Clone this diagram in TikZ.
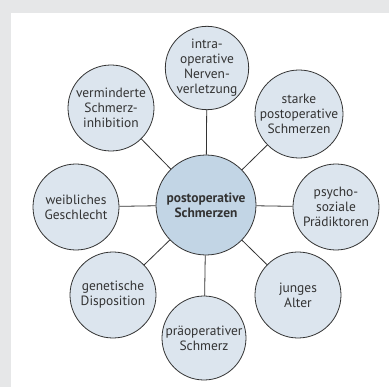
\documentclass[tikz,border=0pt]{standalone}
\usepackage{fontspec}
\setmainfont{PT Sans}
\definecolor{bggray}{HTML}{E6E7E8}
\definecolor{outerfill}{HTML}{DCE5EE}
\definecolor{centerfill}{HTML}{C2D5E5}
\definecolor{edgecol}{HTML}{333333}
\definecolor{txtcol}{HTML}{333333}
\definecolor{titleteal}{HTML}{1E9C8C}
\tikzset{
  outer/.style={circle, draw=edgecol, fill=outerfill, line width=0.8pt, minimum size=86bp, inner sep=0pt, align=center, text=txtcol, font=\fontsize{13.5}{15}\selectfont},
  central/.style={circle, draw=edgecol, fill=centerfill, line width=0.8pt, minimum size=100bp, inner sep=0pt, align=center, text=txtcol, font=\bfseries\fontsize{13.5}{15}\selectfont},
  link/.style={draw=edgecol, line width=0.8pt}
}
\begin{document}
\begin{tikzpicture}[x=1bp,y=1bp]
\useasboundingbox (0,0) rectangle (389,387);
\fill[bggray] (0,0) rectangle (389,387);
\fill[white] (11,0) rectangle (389,374);
\begin{scope}
\clip (0,0) rectangle (389,387);
\node[anchor=base, text=titleteal, font=\bfseries\fontsize{16}{18}\selectfont, inner sep=0pt] (title) at (98,390) {g};
\end{scope}
\node[central] (c) at (206,182) {postoperative\\Schmerzen};
\node[outer, minimum size=82bp] (intra) at (207,319) {intra-\\operative\\Nerven-\\verletzung};
\node[outer] (verm) at (111,279) {verminderte\\Schmerz-\\inhibition};
\node[outer, minimum size=88bp] (starke) at (299,273) {starke\\postoperative\\Schmerzen};
\node[outer] (psycho) at (336,180) {psycho-\\soziale\\Prädiktoren};
\node[outer] (weib) at (76,180) {weibliches\\Geschlecht};
\node[outer] (gen) at (113,92) {genetische\\Disposition};
\node[outer] (jung) at (298,92) {junges\\Alter};
\node[outer, minimum size=84bp] (prae) at (204,49) {präoperativer\\Schmerz};
\foreach \n in {intra,verm,starke,psycho,weib,gen,jung,prae}
  \draw[link] (c) -- (\n);
\end{tikzpicture}
\end{document}
